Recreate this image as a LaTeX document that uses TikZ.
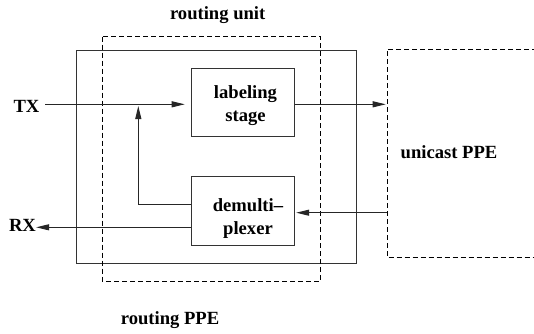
\documentclass[tikz,border=0pt]{standalone}
\usepackage{fontspec}
\setmainfont{Liberation Serif}
\usetikzlibrary{arrows.meta}
\tikzset{
  lbl/.style={font=\bfseries\fontsize{18.6}{22.4}\selectfont, inner sep=0pt, align=center},
  blk/.style={draw=black!80, line width=1pt, minimum width=102.3pt, inner sep=0pt},
  frame/.style={draw=black!80, line width=1pt},
  dfr/.style={draw=black, line width=0.9pt, dash pattern=on 5pt off 3pt},
  arr/.style={draw=black!85, line width=1pt, -{Triangle[length=13pt,width=6pt]}},
  ln/.style={draw=black!85, line width=1pt}
}
\begin{document}
\begin{tikzpicture}[x=1pt,y=-1pt]
\useasboundingbox (0,0) rectangle (534,333);
\fill[white] (0,0) rectangle (534,333);
% frames
\draw[frame] (76,50) rectangle (356,263);
\draw[dfr] (102.3,36.7) rectangle (320.7,281);
\draw[dfr] (545,49.3) -- (387,49.3) -- (387,257.7) -- (545,257.7);
% blocks
\node[blk, minimum height=68pt] (lab) at (242.85,102) {};
\node[blk, minimum height=68.3pt] (dmx) at (242.85,210.85) {};
\node[lbl] (labt) at (245.5,105.5) {labeling\\stage};
\node[lbl] (dmxt) at (248,218.6) {demulti–\\plexer};
% labels
\node[lbl] (tx) at (26.5,106.3) {TX};
\node[lbl] (rx) at (22.5,225.3) {RX};
\node[lbl] (ru) at (217.7,15.5) {routing unit};
\node[lbl] (up) at (449,152.5) {unicast PPE};
\node[lbl] (rp) at (170,320) {routing PPE};
% coordinates
\coordinate (txs) at (45,104.3);
\coordinate (uin) at (387,104.3);
\coordinate (merge) at (138.3,104.3);
\coordinate (fb) at (138.3,204);
\coordinate (rxl) at (0,227.3);
\coordinate (uout) at (387,212.7);
% connectors
\draw[arr, shorten >=6.5pt] (txs) -- (lab.west |- txs);
\draw[arr, shorten >=1.3pt] (lab.east |- uin) -- (uin);
\draw[ln] (dmx.west |- fb) -- (fb);
\draw[arr, shorten >=1.7pt] (fb) -- (merge);
\draw[arr] (dmx.west |- rxl) -- (rx.east |- rxl);
\draw[arr, shorten >=1.7pt] (uout) -- (dmx.east |- uout);
\end{tikzpicture}
\end{document}
